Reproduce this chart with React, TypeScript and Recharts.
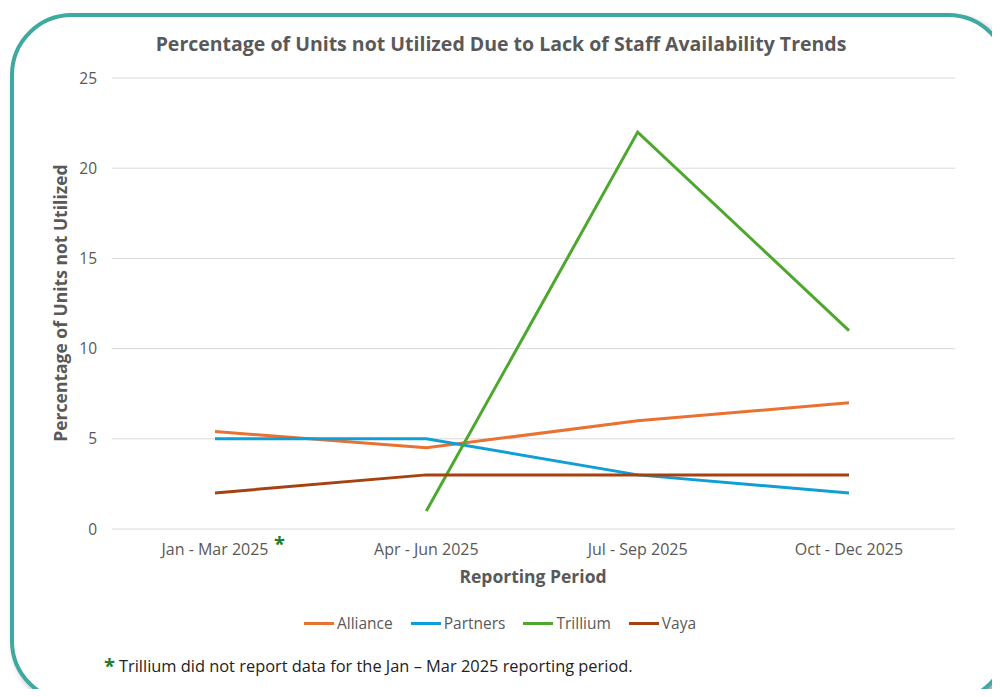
import React from "react";
import { LineChart, Line, XAxis, YAxis, CartesianGrid, Legend } from "recharts";

const periods = ["Jan - Mar 2025", "Apr - Jun 2025", "Jul - Sep 2025", "Oct - Dec 2025"];
const alliance = [5.4, 4.5, 6, 7];
const partners = [5, 5, 3, 2];
const trillium: (number | null)[] = [null, 1, 22, 11];
const vaya = [2, 3, 3, 3];
const yTicks = [0, 5, 10, 15, 20, 25];

const seriesInfo = [
  { key: "Alliance", color: "#E97132" },
  { key: "Partners", color: "#0F9ED5" },
  { key: "Trillium", color: "#4EA72E" },
  { key: "Vaya", color: "#A5420F" },
];

const data = periods.map((p, i) => ({
  period: p,
  Alliance: alliance[i],
  Partners: partners[i],
  Trillium: trillium[i],
  Vaya: vaya[i],
}));

const FONT = "'Open Sans', Roboto, sans-serif";
const GREY = "#595959";

const XTick = (props: any) => {
  const { x, y, payload, index } = props;
  return (
    <g>
      <text x={x} y={y} dy="0.71em" textAnchor="middle" fill={GREY} fontSize={16} fontFamily={FONT}>
        {payload.value}
      </text>
      {index === 0 ? (
        <text x={x + 59} y={y - 7} dy="0.71em" textAnchor="start" fill="#1E7B2E" fontSize={20} fontWeight={700} fontFamily={FONT}>
          *
        </text>
      ) : null}
    </g>
  );
};

const LegendContent = () => (
  <div style={{ display: "flex", justifyContent: "center", gap: 18, fontFamily: FONT, fontSize: 15.5, color: GREY, lineHeight: "21px" }}>
    {seriesInfo.map((s) => (
      <div key={s.key} style={{ display: "flex", alignItems: "center" }}>
        <div style={{ width: 30, height: 3, background: s.color, marginRight: 3 }} />
        <span>{s.key}</span>
      </div>
    ))}
  </div>
);

export default function App() {
  return (
    <div style={{ position: "relative", width: 1000, height: 697, margin: -8, overflow: "hidden", background: "#fff" }}>
      <div
        style={{
          position: "absolute",
          left: 10,
          top: 13,
          width: 1000,
          height: 690,
          border: "4px solid #3DA9A0",
          borderRadius: 62,
          boxShadow: "4px 4px 6px rgba(0,0,0,0.35)",
          background: "#fff",
          boxSizing: "border-box",
        }}
      />
      <div style={{ position: "absolute", left: 0, top: 0 }}>
        <LineChart width={1000} height={697} data={data} margin={{ top: 78, right: 45, left: 0, bottom: 117 }}>
          <text x={501} y={46} textAnchor="middle" dominantBaseline="middle" fill={GREY} fontSize={19.5} fontWeight={700} fontFamily={FONT}>
            Percentage of Units not Utilized Due to Lack of Staff Availability Trends
          </text>
          <CartesianGrid vertical={false} stroke="#D9D9D9" />
          <XAxis
            dataKey="period"
            axisLine={false}
            tickLine={false}
            tickMargin={9}
            height={30}
            tick={<XTick />}
            interval={0}
            padding={{ left: 103, right: 106 }}
          />
          <YAxis
            domain={[0, 25]}
            ticks={yTicks}
            axisLine={false}
            tickLine={false}
            tickMargin={9}
            width={112}
            tick={{ fill: GREY, fontSize: 15.5, fontFamily: FONT }}
          />
          <text
            x={62}
            y={303}
            transform="rotate(-90 62 303)"
            textAnchor="middle"
            dominantBaseline="middle"
            fill={GREY}
            fontSize={17.5}
            fontWeight={700}
            fontFamily={FONT}
          >
            Percentage of Units not Utilized
          </text>
          <text x={533} y={578} textAnchor="middle" dominantBaseline="middle" fill={GREY} fontSize={17.5} fontWeight={700} fontFamily={FONT}>
            Reporting Period
          </text>
          {seriesInfo.map((s) => (
            <Line
              key={s.key}
              type="linear"
              dataKey={s.key}
              stroke={s.color}
              strokeWidth={3}
              dot={false}
              activeDot={false}
              isAnimationActive={false}
              connectNulls={false}
            />
          ))}
          <Legend content={<LegendContent />} wrapperStyle={{ top: 613, left: 0, width: 1000 }} />
          <text x={104} y={673} fill="#1E7B2E" fontSize={20} fontWeight={700} fontFamily={FONT}>
            *
          </text>
          <text x={119} y={668} dominantBaseline="middle" fill="#222" fontSize={16.4} fontFamily={FONT}>
            Trillium did not report data for the Jan – Mar 2025 reporting period.
          </text>
        </LineChart>
      </div>
    </div>
  );
}
